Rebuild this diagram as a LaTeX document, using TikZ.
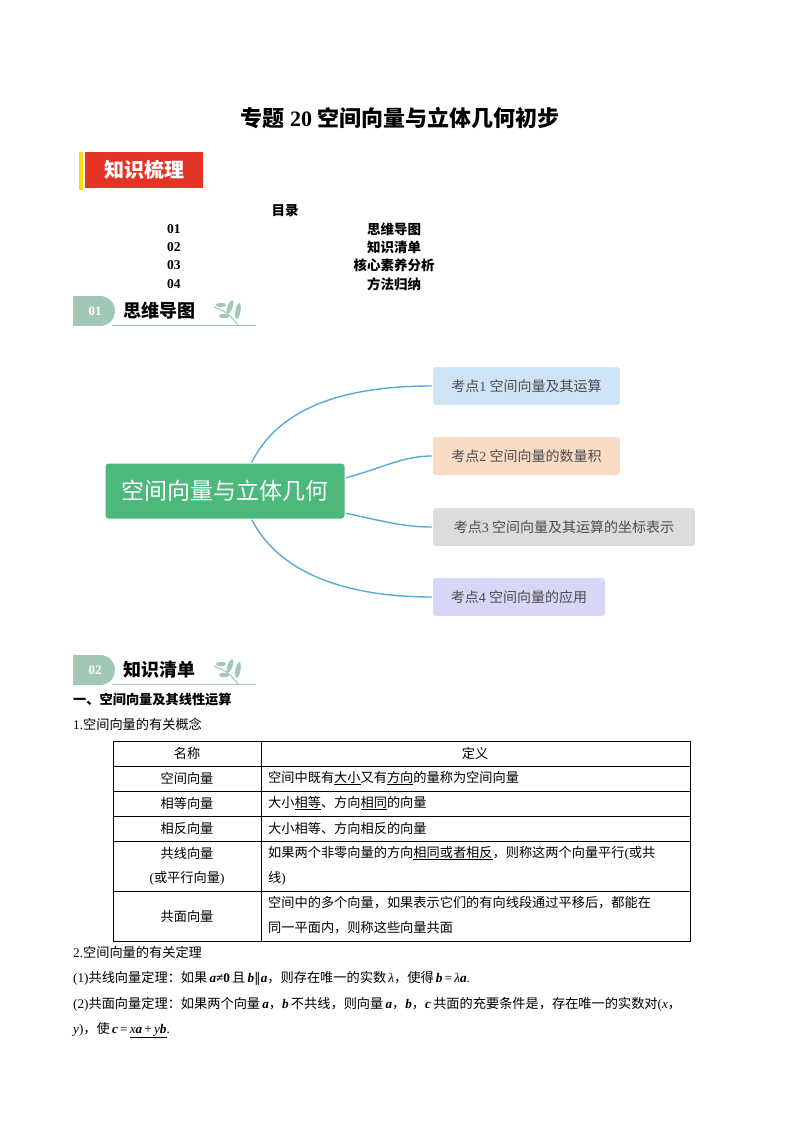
\documentclass[tikz,border=0pt]{standalone}
\usepackage{fontspec}
\setmainfont{Noto Sans CJK SC}
\newfontfamily\lat{Liberation Serif}
\newfontfamily\djv{DejaVu Sans}
\newcommand{\vb}[1]{{\lat\bfseries\itshape #1}}
\newcommand{\vi}[1]{{\lat\itshape #1}}
\definecolor{tblue}{RGB}{207,227,247}
\definecolor{torange}{RGB}{250,220,196}
\definecolor{tgray}{RGB}{220,220,220}
\definecolor{tviolet}{RGB}{216,214,247}
\definecolor{cgreen}{RGB}{76,184,124}
\definecolor{sage}{RGB}{160,200,180}
\definecolor{lblue}{RGB}{90,169,221}
\definecolor{bred}{RGB}{228,52,38}
\begin{document}
\begin{tikzpicture}[x=1pt,y=-1pt,
  txt/.style={anchor=west,inner sep=0pt,font=\fontsize{13.2}{15}\selectfont},
  toc/.style={inner sep=0pt,font=\fontsize{13.5}{15}\selectfont\bfseries},
  leaf/.style={fill=sage,draw=none},
  topic/.style={rounded corners=3pt,anchor=west,minimum height=39pt,inner sep=6pt,text=black!70,font=\fontsize{14}{15}\selectfont,draw=white,line width=1pt},
  link/.style={draw=lblue,line width=1.4pt},
  cell/.style={inner sep=0pt,font=\fontsize{13.2}{15}\selectfont}]
\useasboundingbox (0,0) rectangle (800,1132);
\fill[white] (0,0) rectangle (800,1132);
% title
\node[font=\fontsize{22}{24}\selectfont\bfseries] (title) at (400,118) {专题{\lat\bfseries\ 20\ }空间向量与立体几何初步};
% badge
\fill[yellow!80!orange] (79,152) rectangle (83,190);
\node[fill=bred,text=white,font=\fontsize{20}{22}\selectfont\bfseries,minimum width=118pt,minimum height=36pt,inner sep=0pt] (b1) at (144,170) {知识梳理};
% TOC
\node[toc] (mulu) at (285,211) {目录};
\foreach \n/\w/\y in {01/思维导图/229,02/知识清单/247,03/核心素养分析/265,04/方法归纳/284}{
  \node[toc,anchor=west] (n\n) at (167,\y) {\lat\bfseries \n};
  \node[toc] (w\n) at (394,\y) {\w};
}
% section badges
\foreach \num/\lab/\y in {01/思维导图/311,02/知识清单/670}{
  \fill[sage] (73,\y-15) rectangle (100,\y+15);
  \fill[sage] (100,\y) circle (15);
  \node[text=white,font=\fontsize{13}{14}\selectfont\bfseries\lat] at (95,\y) {\num};
  \node[anchor=west,inner sep=0pt,font=\fontsize{18}{20}\selectfont\bfseries] at (123,\y) {\lab};
  \draw[sage,line width=1pt] (112,\y+14) -- (256,\y+14);
  \begin{scope}[shift={(228,\y)}]
    \draw[sage,line width=1pt] (-14,-4) .. controls (0,2) .. (10,14);
    \fill[leaf] (-7,-6) ellipse (5 and 2.2);
    \fill[leaf] (-4,5) ellipse (5 and 2.2);
    \fill[leaf,rotate around={70:(2,-4)}] (2,-4) ellipse (7 and 2.5);
    \fill[leaf,rotate around={80:(10,0)}] (10,0) ellipse (8 and 2.5);
  \end{scope}
}
% mind map
\node[topic,fill=tblue,minimum width=188pt] (t1) at (432,386) {考点{\lat 1} 空间向量及其运算};
\node[topic,fill=torange,minimum width=188pt] (t2) at (432,456) {考点{\lat 2} 空间向量的数量积};
\node[topic,fill=tgray,minimum width=263pt] (t3) at (432,527) {考点{\lat 3} 空间向量及其运算的坐标表示};
\node[topic,fill=tviolet,minimum width=173pt] (t4) at (432,597) {考点{\lat 4} 空间向量的应用};
\draw[link] (250,466) .. controls (280,400) and (360,386) .. (t1.west);
\draw[link] (330,482) .. controls (380,470) and (400,456) .. (t2.west);
\draw[link] (330,510) .. controls (380,520) and (400,527) .. (t3.west);
\draw[link] (250,516) .. controls (280,580) and (360,597) .. (t4.west);
\node[fill=cgreen,text=white,rounded corners=3pt,minimum width=240pt,minimum height=56pt,font=\fontsize{23}{25}\selectfont,draw=white,line width=1pt] (center) at (225,491) {空间向量与立体几何};
% section text
\node[txt,font=\fontsize{13.2}{15}\selectfont\bfseries] (h1) at (73,700) {一、空间向量及其线性运算};
\node[txt] (p1) at (73,724) {{\lat 1.}空间向量的有关概念};
% table
\draw[line width=0.8pt] (113,741) rectangle (690,941);
\foreach \y in {766,791,816,841,891} \draw[line width=0.8pt] (113,\y) -- (690,\y);
\draw[line width=0.8pt] (261,741) -- (261,941);
\node[cell] (c11) at (187,753) {名称};
\node[cell] (c12) at (475,753) {定义};
\node[cell] (c21) at (187,778) {空间向量};
\node[cell,anchor=west] (c22) at (268,778) {空间中既有\underline{大小}又有\underline{方向}的量称为空间向量};
\node[cell] (c31) at (187,803) {相等向量};
\node[cell,anchor=west] (c32) at (268,803) {大小\underline{相等}、方向\underline{相同}的向量};
\node[cell] (c41) at (187,828) {相反向量};
\node[cell,anchor=west] (c42) at (268,828) {大小相等、方向相反的向量};
\node[cell] (c51) at (187,853) {共线向量};
\node[cell] (c51b) at (187,878) {{\lat(}或平行向量{\lat)}};
\node[cell,anchor=west] (c52) at (268,853) {如果两个非零向量的方向\underline{相同或者相反}，则称这两个向量平行{\lat(}或共};
\node[cell,anchor=west] (c52b) at (268,878) {线{\lat)}};
\node[cell] (c61) at (187,916) {共面向量};
\node[cell,anchor=west] (c62) at (268,903) {空间中的多个向量，如果表示它们的有向线段通过平移后，都能在};
\node[cell,anchor=west] (c62b) at (268,928) {同一平面内，则称这些向量共面};
% theorems
\node[txt] (p2) at (73,952) {{\lat 2.}空间向量的有关定理};
\node[txt] (p3) at (73,978) {{\lat(1)}共线向量定理：如果\,\vb{a}{\lat\bfseries ≠0}\,且\,\vb{b}{\djv ∥}\vb{a}，则存在唯一的实数\,\vi{λ}，使得\,\vb{b}{\lat\,=\,}\vi{λ}\vb{a}{\lat .}};
\node[txt] (p4) at (73,1004) {{\lat(2)}共面向量定理：如果两个向量\,\vb{a}，\vb{b}\,不共线，则向量\,\vb{a}，\vb{b}，\vb{c}\,共面的充要条件是，存在唯一的实数对{\lat(}\vi{x}，};
\node[txt] (p5) at (73,1030) {\vi{y}{\lat)}，使\,\vb{c}{\lat\,=\,}\underline{\vi{x}\vb{a}{\lat\,+\,}\vi{y}\vb{b}}{\lat .}};
\end{tikzpicture}
\end{document}
